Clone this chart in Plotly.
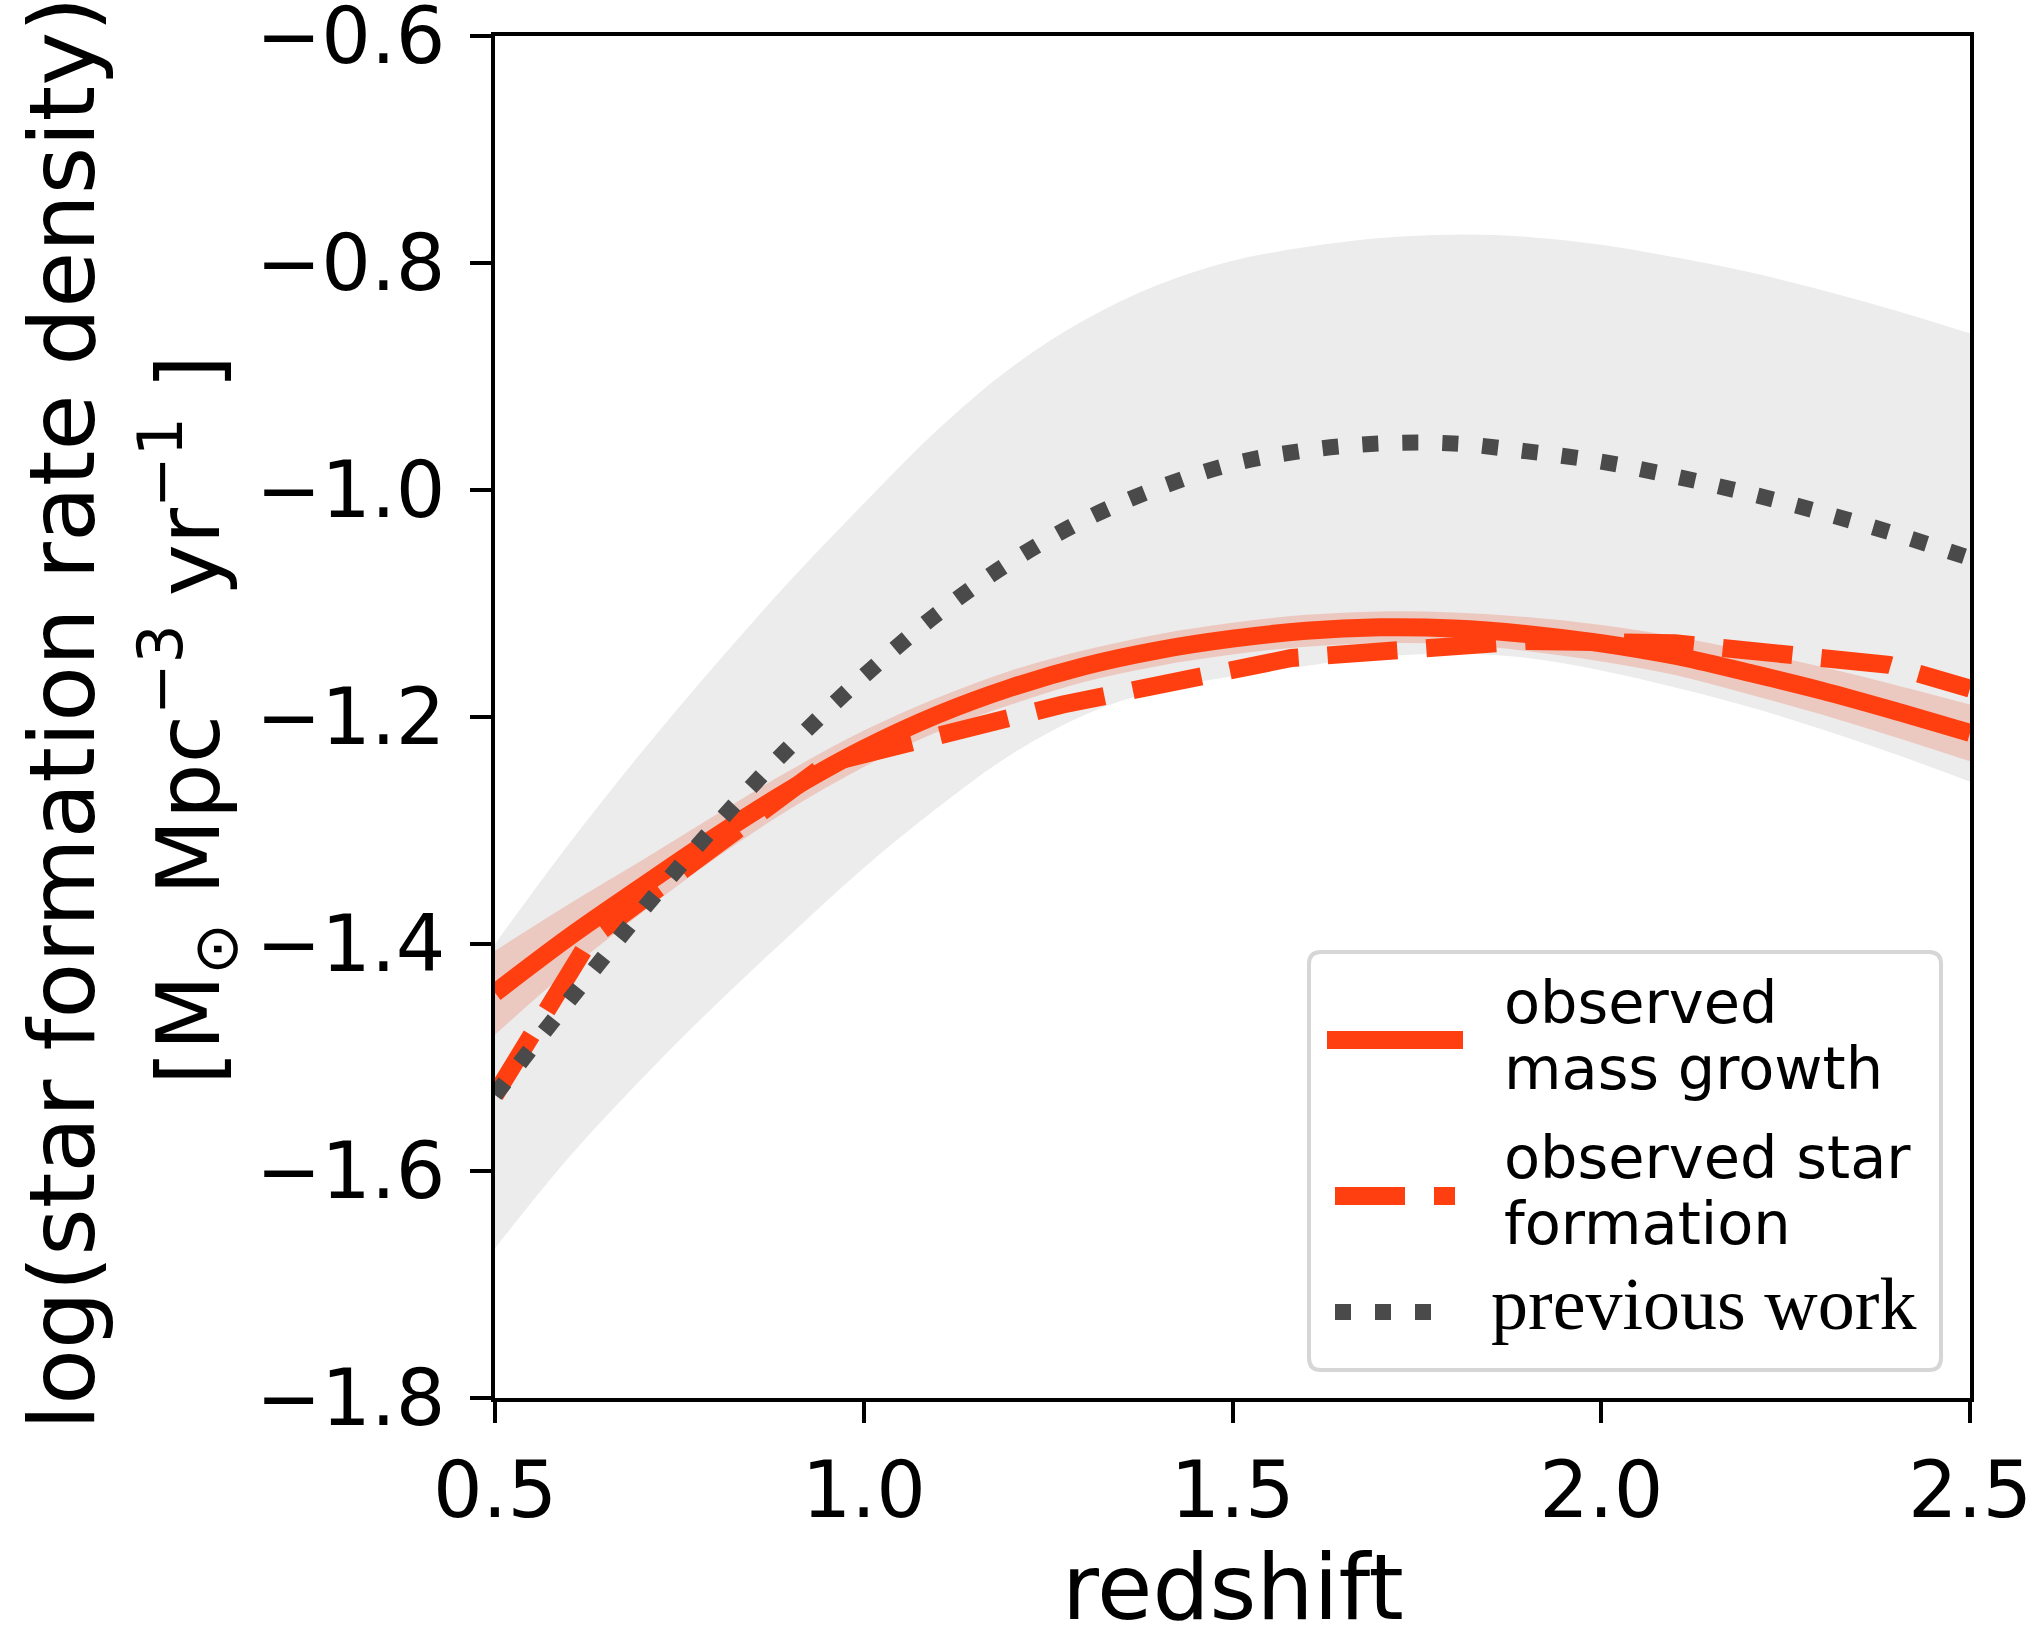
import plotly.graph_objects as go

# ---------------- data ----------------
redshift = [0.5, 0.6, 0.7, 0.8, 0.9, 1.0, 1.1, 1.2, 1.3, 1.4, 1.5,
            1.6, 1.7, 1.8, 1.9, 2.0, 2.1, 2.2, 2.3, 2.4, 2.5]

mass_growth = [-1.443, -1.394, -1.349, -1.305, -1.264, -1.228, -1.198, -1.174,
               -1.155, -1.141, -1.131, -1.124, -1.121, -1.122, -1.127, -1.135,
               -1.146, -1.161, -1.177, -1.195, -1.214]
mass_growth_hi = [-1.406, -1.365, -1.326, -1.286, -1.247, -1.212, -1.183, -1.159,
                  -1.141, -1.127, -1.117, -1.110, -1.107, -1.108, -1.112, -1.119,
                  -1.129, -1.142, -1.156, -1.172, -1.189]
mass_growth_lo = [-1.480, -1.423, -1.372, -1.324, -1.281, -1.244, -1.213, -1.189,
                  -1.169, -1.155, -1.145, -1.138, -1.135, -1.136, -1.142, -1.151,
                  -1.163, -1.180, -1.198, -1.218, -1.239]

previous_work = [-1.533, -1.450, -1.370, -1.295, -1.226, -1.164, -1.109, -1.063,
                 -1.026, -0.998, -0.977, -0.965, -0.959, -0.959, -0.966, -0.975,
                 -0.988, -1.003, -1.020, -1.039, -1.060]
previous_hi = [-1.400, -1.312, -1.230, -1.153, -1.080, -1.012, -0.947, -0.892,
               -0.850, -0.819, -0.798, -0.786, -0.778, -0.775, -0.777, -0.784,
               -0.795, -0.808, -0.824, -0.842, -0.862]
previous_lo = [-1.668, -1.588, -1.518, -1.453, -1.392, -1.333, -1.280, -1.233,
               -1.198, -1.176, -1.164, -1.155, -1.147, -1.144, -1.148, -1.159,
               -1.174, -1.191, -1.211, -1.233, -1.257]

sf_redshift = [0.5, 0.63, 0.95, 1.27, 1.58, 1.90, 2.10, 2.39, 2.5]
star_formation = [-1.533, -1.395, -1.241, -1.189, -1.148, -1.133, -1.135, -1.154, -1.175]

x_ticks = [0.5, 1.0, 1.5, 2.0, 2.5]
y_ticks = [-1.8, -1.6, -1.4, -1.2, -1.0, -0.8, -0.6]

legend_labels = ["observed<br>mass growth", "observed star<br>formation", "previous work"]

# ---------------- styling ----------------
RED = "#ff3f0f"
DARK = "#4a4a4a"
GRAY = "#ececec"
PINK = "#ecc9c0"
W, H = 2036, 1627
L, R, T, B = 495, 1970, 36, 1398  # plot area in pixels


def px_x(X):
    return (X - L) / (R - L)


def px_y(Y):
    return (B - Y) / (B - T)


fig = go.Figure()

# grey band (previous work spread)
fig.add_trace(go.Scatter(x=redshift, y=previous_lo, mode="lines", line=dict(width=0, shape="spline"),
                         showlegend=False, hoverinfo="skip"))
fig.add_trace(go.Scatter(x=redshift, y=previous_hi, mode="lines", line=dict(width=0, shape="spline"),
                         fill="tonexty", fillcolor=GRAY, showlegend=False, hoverinfo="skip"))
# pink band (mass growth uncertainty)
fig.add_trace(go.Scatter(x=redshift, y=mass_growth_lo, mode="lines", line=dict(width=0, shape="spline"),
                         showlegend=False, hoverinfo="skip"))
fig.add_trace(go.Scatter(x=redshift, y=mass_growth_hi, mode="lines", line=dict(width=0, shape="spline"),
                         fill="tonexty", fillcolor=PINK, showlegend=False, hoverinfo="skip"))
# lines
fig.add_trace(go.Scatter(x=redshift, y=mass_growth, mode="lines", name="observed mass growth",
                         line=dict(color=RED, width=18, shape="spline"), showlegend=False))
fig.add_trace(go.Scatter(x=sf_redshift, y=star_formation, mode="lines", name="observed star formation",
                         line=dict(color=RED, width=18, dash="70px,29px"), showlegend=False))
fig.add_trace(go.Scatter(x=redshift, y=previous_work, mode="lines", name="previous work",
                         line=dict(color=DARK, width=16, dash="16px,24px", shape="spline"), showlegend=False))

tickfont = dict(family="DejaVu Sans", size=78, color="black")
fig.update_xaxes(range=[0.5, 2.5], tickvals=x_ticks, ticktext=[f"{v:.1f}" for v in x_ticks],
                 ticks="outside", ticklen=21, tickwidth=4, tickcolor="black",
                 showline=True, linewidth=4, linecolor="black", mirror=True,
                 showgrid=False, zeroline=False, tickfont=tickfont, ticklabelstandoff=0,
                 ticklabeloverflow="allow", automargin=False)
fig.update_yaxes(range=[-1.8, -0.6], tickvals=y_ticks,
                 ticktext=[f"{v:.1f}".replace("-", "\u2212") for v in y_ticks],
                 ticks="outside", ticklen=21, tickwidth=4, tickcolor="black",
                 showline=True, linewidth=4, linecolor="black", mirror=True,
                 showgrid=False, zeroline=False, tickfont=tickfont, ticklabelstandoff=9,
                 ticklabeloverflow="allow", automargin=False)

annotations = []
# axis titles
annotations.append(dict(text="redshift", x=0.5, y=px_y(1587), xref="paper", yref="paper",
                        xanchor="center", yanchor="middle", showarrow=False,
                        font=dict(family="DejaVu Sans", size=90, color="black")))
annotations.append(dict(text="log(star formation rate density)", x=px_x(62), y=px_y(713),
                        xref="paper", yref="paper", xanchor="center", yanchor="middle",
                        textangle=-90, showarrow=False,
                        font=dict(family="DejaVu Sans", size=91, color="black")))
annotations.append(dict(text="[M<sub>\u2299</sub> Mpc<sup>\u22123</sup> yr<sup>\u22121</sup> ]",
                        x=px_x(188), y=px_y(720),
                        xref="paper", yref="paper", xanchor="center", yanchor="middle",
                        textangle=-90, showarrow=False,
                        font=dict(family="DejaVu Sans", size=88, color="black")))

# ---------------- manual legend ----------------
bx0, bx1, by0, by1, rad = 1309, 1941, 952, 1370, 12
path = (f"M {px_x(bx0 + rad)},{px_y(by0)} L {px_x(bx1 - rad)},{px_y(by0)} "
        f"Q {px_x(bx1)},{px_y(by0)} {px_x(bx1)},{px_y(by0 + rad)} "
        f"L {px_x(bx1)},{px_y(by1 - rad)} Q {px_x(bx1)},{px_y(by1)} {px_x(bx1 - rad)},{px_y(by1)} "
        f"L {px_x(bx0 + rad)},{px_y(by1)} Q {px_x(bx0)},{px_y(by1)} {px_x(bx0)},{px_y(by1 - rad)} "
        f"L {px_x(bx0)},{px_y(by0 + rad)} Q {px_x(bx0)},{px_y(by0)} {px_x(bx0 + rad)},{px_y(by0)} Z")
shapes = [dict(type="path", path=path, xref="paper", yref="paper",
               fillcolor="white", line=dict(color="#d6d6d6", width=4), layer="above")]
shapes.append(dict(type="line", xref="paper", yref="paper", x0=px_x(1327), x1=px_x(1463),
                   y0=px_y(1040), y1=px_y(1040), line=dict(color=RED, width=18), layer="above"))
shapes.append(dict(type="line", xref="paper", yref="paper", x0=px_x(1335), x1=px_x(1455),
                   y0=px_y(1196), y1=px_y(1196), line=dict(color=RED, width=18, dash="70px,29px"),
                   layer="above"))
shapes.append(dict(type="line", xref="paper", yref="paper", x0=px_x(1335), x1=px_x(1455),
                   y0=px_y(1312), y1=px_y(1312), line=dict(color=DARK, width=16, dash="16px,24px"),
                   layer="above"))

sans = dict(family="DejaVu Sans", size=59, color="black")
legend_lines = [(legend_labels[0].split("<br>"), [1002, 1068]),
                (legend_labels[1].split("<br>"), [1157, 1223])]
for texts, ys in legend_lines:
    for t, yc in zip(texts, ys):
        annotations.append(dict(text=t, x=px_x(1502), y=px_y(yc), xref="paper", yref="paper",
                                xanchor="left", yanchor="middle", showarrow=False, font=sans))
annotations.append(dict(text=legend_labels[2], x=px_x(1489), y=px_y(1304), xref="paper", yref="paper",
                        xanchor="left", yanchor="middle", showarrow=False,
                        font=dict(family="Liberation Serif", size=74, color="black")))

fig.update_layout(width=W, height=H, margin=dict(l=L, r=W - R, t=T, b=H - B, pad=0),
                  paper_bgcolor="white", plot_bgcolor="white",
                  shapes=shapes, annotations=annotations, showlegend=False)

fig.write_html("out.html")
